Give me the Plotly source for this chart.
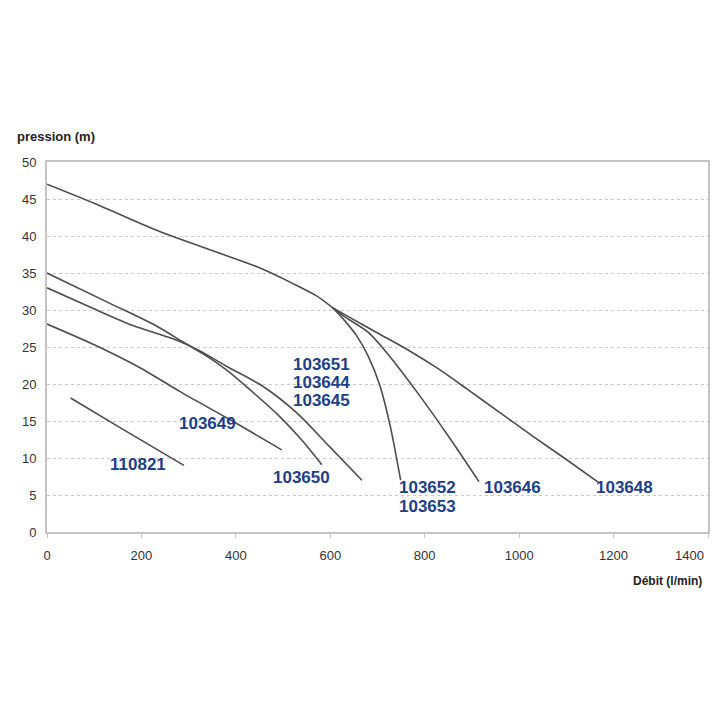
import plotly.graph_objects as go

# ---- data (débit l/min, pression m) ----
c110821_x = [50, 160, 290]
c110821_y = [18.1, 13.9, 9.0]

c103649_x = [0, 100, 197, 281, 387, 497]
c103649_y = [28.1, 25.3, 22.2, 19.0, 15.2, 11.1]

c103650_x = [0, 130, 230, 290, 340, 380, 423, 493, 540, 582]
c103650_y = [35.0, 31.0, 27.9, 25.6, 23.7, 21.9, 19.6, 15.6, 12.4, 9.1]

c103651_x = [0, 91, 182, 267, 320, 380, 457, 529, 599, 667]
c103651_y = [33.0, 30.4, 27.9, 26.1, 24.6, 22.4, 19.7, 16.1, 11.5, 7.0]

top_x = [0, 112, 239, 360, 450, 520, 571, 605]
top_y = [47.0, 44.1, 40.6, 37.8, 35.7, 33.6, 31.9, 30.3]

c103652_x = [605, 630, 655, 680, 705, 727, 749]
c103652_y = [30.3, 28.6, 26.6, 23.8, 19.8, 14.3, 7.0]

c103646_x = [605, 630, 680, 720, 785, 855, 915]
c103646_y = [30.3, 29.1, 27.0, 24.2, 18.8, 12.5, 6.8]

c103648_x = [605, 641, 700, 770, 830, 890, 960, 1030, 1100, 1168]
c103648_y = [30.3, 29.0, 26.9, 24.4, 22.0, 19.3, 16.1, 12.9, 9.8, 6.7]

labels = ["110821", "103649", "103650", "103651", "103644", "103645",
          "103652", "103653", "103646", "103648"]
label_x = [193, 339, 540, 582, 582, 582, 806, 806, 986, 1223]
label_y = [9.1, 14.7, 7.3, 22.7, 20.2, 17.8, 6.0, 3.4, 6.0, 6.0]

x_ticks = [0, 200, 400, 600, 800, 1000, 1200]
x_last_tick = 1400
y_ticks = [0, 5, 10, 15, 20, 25, 30, 35, 40, 45, 50]

# ---- figure ----
line_style = dict(color="#4d4d4d", width=1.6)
fig = go.Figure()
for xs, ys in [(c110821_x, c110821_y), (c103649_x, c103649_y),
               (c103650_x, c103650_y), (c103651_x, c103651_y),
               (top_x, top_y), (c103652_x, c103652_y),
               (c103646_x, c103646_y), (c103648_x, c103648_y)]:
    fig.add_trace(go.Scatter(x=xs, y=ys, mode="lines",
                             line=dict(**line_style, shape="spline", smoothing=0.8),
                             showlegend=False, hoverinfo="skip"))

for t, lx, ly in zip(labels, label_x, label_y):
    fig.add_annotation(x=lx, y=ly, text="<b>%s</b>" % t, showarrow=False,
                       font=dict(family="Liberation Sans, Arial", size=17, color="#1e3f88"),
                       xanchor="center", yanchor="middle")

# last x tick label, pulled inside the window as in the original
fig.add_annotation(x=x_last_tick, y=0, yref="y", text=str(x_last_tick), showarrow=False,
                   xanchor="right", yanchor="top", yshift=-14, xshift=-2,
                   font=dict(family="Liberation Sans, Arial", size=13, color="#333"))

fig.add_annotation(xref="paper", yref="paper", x=-0.048, y=1.068, text="<b>pression (m)</b>",
                   showarrow=False, xanchor="left", yanchor="middle",
                   font=dict(family="Liberation Sans, Arial", size=13, color="#222"))
fig.add_annotation(xref="paper", yref="paper", x=0.994, y=-0.132, text="<b>Débit (l/min)</b>",
                   showarrow=False, xanchor="right", yanchor="middle",
                   font=dict(family="Liberation Sans, Arial", size=12, color="#222"))

fig.update_layout(
    width=720, height=720,
    margin=dict(l=47, r=10, t=162, b=188),
    paper_bgcolor="white", plot_bgcolor="white",
    font=dict(family="Liberation Sans, Arial", size=13, color="#333"),
    xaxis=dict(range=[0, 1400], tickvals=x_ticks + [x_last_tick],
               ticktext=[str(v) for v in x_ticks] + [""],
               showgrid=False, zeroline=False,
               showline=True, mirror=True, linecolor="#c4c4c4", linewidth=2,
               ticks="outside", ticklen=4, tickcolor="#c4c4c4", ticklabelstandoff=6),
    yaxis=dict(range=[0, 50], tickvals=y_ticks, showgrid=True, gridcolor="#c8c8c8",
               griddash="dot", gridwidth=1, zeroline=False,
               showline=True, mirror=True, linecolor="#c4c4c4", linewidth=2,
               ticks="", ticklabelstandoff=6),
)

fig.write_html("out.html")
